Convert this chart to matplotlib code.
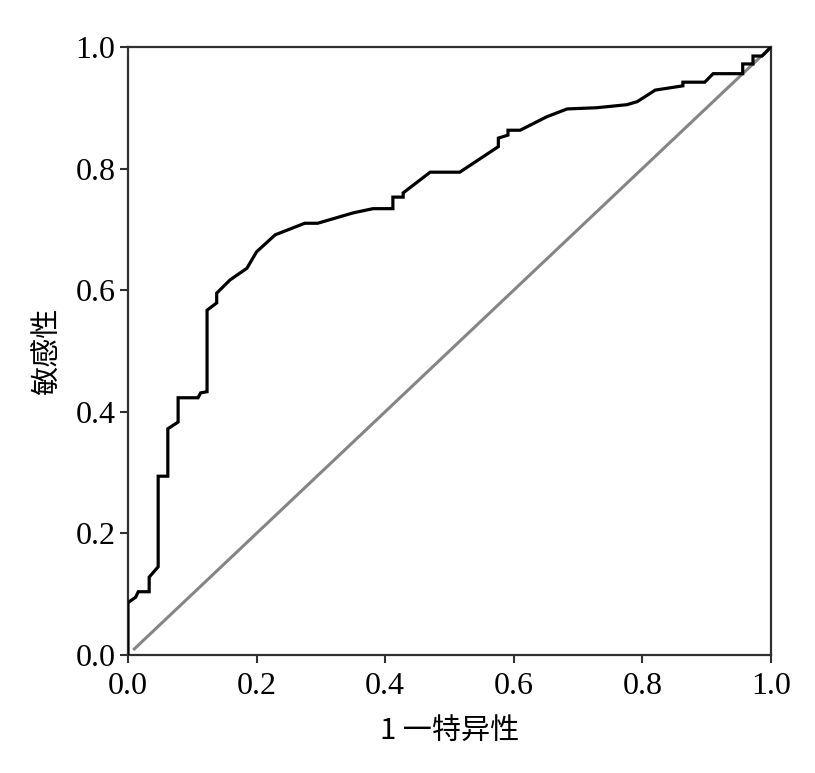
"""
ROC curve: sensitivity vs 1 - specificity
"""
import matplotlib
matplotlib.use("Agg")
import matplotlib.pyplot as plt

plt.rcParams["font.family"] = ["Liberation Serif", "Noto Sans CJK SC", "DejaVu Sans"]

# curve points
fpr = [0, 0, 0.012, 0.016, 0.033, 0.033, 0.047, 0.047, 0.062, 0.062,
       0.078, 0.078, 0.109, 0.113, 0.123, 0.123, 0.138, 0.138, 0.159, 0.185,
       0.200, 0.229, 0.275, 0.295, 0.350, 0.381, 0.412, 0.412, 0.428, 0.428,
       0.454, 0.470, 0.516, 0.576, 0.576, 0.591, 0.591, 0.610, 0.651, 0.683,
       0.729, 0.776, 0.792, 0.820, 0.863, 0.863, 0.897, 0.910, 0.956, 0.956,
       0.972, 0.972, 0.986, 0.991, 1.0]
tpr = [0, 0.086, 0.095, 0.104, 0.104, 0.128, 0.145, 0.294, 0.294, 0.372,
       0.383, 0.423, 0.423, 0.431, 0.433, 0.567, 0.579, 0.595, 0.617, 0.636,
       0.663, 0.691, 0.710, 0.710, 0.727, 0.734, 0.734, 0.753, 0.753, 0.760,
       0.781, 0.794, 0.794, 0.836, 0.850, 0.855, 0.863, 0.863, 0.885, 0.898,
       0.900, 0.905, 0.910, 0.929, 0.936, 0.942, 0.942, 0.956, 0.956, 0.972,
       0.972, 0.985, 0.985, 0.990, 1.0]

ref_line = [0.01, 1]
ticks = [0.0, 0.2, 0.4, 0.6, 0.8, 1.0]
xlabel = "1 一特异性"
ylabel = "敏感性"


def plot() -> None:
    fig = plt.figure(figsize=(8.15, 7.73), dpi=100)
    ax = fig.add_axes([0.157, 0.1527, 0.789, 0.7866])

    ax.plot(ref_line, ref_line, color="#858585", lw=2.2, zorder=2)
    ax.plot(fpr, tpr, color="black", lw=2.3, zorder=3, solid_joinstyle="miter")

    ax.set_xlim(0, 1)
    ax.set_ylim(0, 1)
    ax.set_xticks(ticks)
    ax.set_yticks(ticks)
    ax.set_xticklabels([f"{t:.1f}" for t in ticks])
    ax.set_yticklabels([f"{t:.1f}" for t in ticks])

    for s in ax.spines.values():
        s.set_linewidth(1.6)
        s.set_color("#303030")
    ax.tick_params(direction="out", length=6, width=1.5, color="#303030",
                   labelsize=23)
    ax.tick_params(axis="x", pad=6)
    ax.tick_params(axis="y", pad=3)

    ax.set_xlabel(xlabel, fontsize=21, labelpad=12,
                  family=["Noto Sans CJK SC", "DejaVu Sans"])
    ax.set_ylabel(ylabel, fontsize=21, labelpad=10)

    fig.savefig("out.png", dpi=100)


if __name__ == "__main__":
    plot()
